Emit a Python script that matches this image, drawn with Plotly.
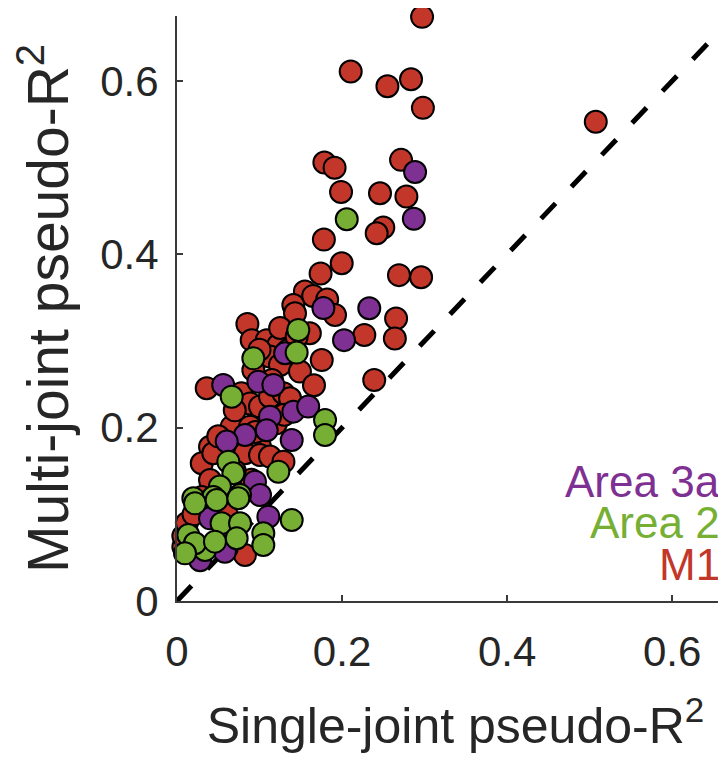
import plotly.graph_objects as go

# ---- data ----
m1_x = [0.297, 0.2105, 0.255, 0.2836, 0.298, 0.5075, 0.2715, 0.1786, 0.191, 0.1988,
        0.246, 0.278, 0.25, 0.242, 0.178, 0.1996, 0.174, 0.269, 0.2958, 0.155,
        0.165, 0.182, 0.141, 0.143, 0.1915, 0.2655, 0.227, 0.264, 0.0853, 0.161,
        0.0905, 0.1087, 0.1228, 0.135, 0.1127, 0.1754, 0.1248, 0.149, 0.0925, 0.239,
        0.166, 0.036, 0.078, 0.0885, 0.1006, 0.1127, 0.129, 0.137, 0.0663, 0.0885,
        0.04, 0.1006, 0.03, 0.044, 0.0824, 0.1006, 0.1127, 0.129, 0.04, 0.0824,
        0.0077, 0.0077, 0.05, 0.07, 0.095, 0.12, 0.03, 0.06, 0.09, 0.115,
        0.10, 0.125, 0.145, 0.07, 0.012, 0.02, 0.13]
m1_y = [0.674, 0.611, 0.594, 0.602, 0.569, 0.553, 0.509, 0.506, 0.500, 0.472,
        0.4705, 0.4667, 0.431, 0.4243, 0.417, 0.3897, 0.378, 0.376, 0.3735, 0.357,
        0.352, 0.348, 0.3416, 0.332, 0.330, 0.326, 0.307, 0.303, 0.3197, 0.309,
        0.301, 0.301, 0.2954, 0.2897, 0.282, 0.278, 0.2724, 0.2647, 0.2666, 0.255,
        0.249, 0.2455, 0.2397, 0.228, 0.2243, 0.2358, 0.2397, 0.234, 0.2012, 0.2012,
        0.178, 0.178, 0.159, 0.1705, 0.1705, 0.1685, 0.1666, 0.1608, 0.1396, 0.0531,
        0.0627, 0.075, 0.19, 0.22, 0.195, 0.205, 0.12, 0.10, 0.14, 0.255,
        0.29, 0.315, 0.305, 0.15, 0.09, 0.10, 0.215]

a3_x = [0.2885, 0.287, 0.233, 0.2024, 0.1774, 0.131, 0.0986, 0.1168, 0.056, 0.141,
        0.159, 0.1127, 0.1087, 0.0824, 0.0602, 0.139, 0.0945, 0.1006, 0.1107, 0.04,
        0.0602, 0.058, 0.028]
a3_y = [0.495, 0.441, 0.3378, 0.301, 0.338, 0.2859, 0.2531, 0.2493, 0.2493, 0.2185,
        0.2243, 0.2127, 0.197, 0.1916, 0.184, 0.1858, 0.1377, 0.1223, 0.0973, 0.0954,
        0.0608, 0.0569, 0.047]

a2_x = [0.2057, 0.147, 0.145, 0.0925, 0.0663, 0.1794, 0.1794, 0.0622, 0.0683, 0.1228,
        0.052, 0.0764, 0.0198, 0.044, 0.0218, 0.048, 0.0743, 0.139, 0.054, 0.0764,
        0.0137, 0.1046, 0.1046, 0.0723, 0.034, 0.0218, 0.046, 0.0097]
a2_y = [0.4405, 0.3128, 0.2866, 0.280, 0.2358, 0.2089, 0.1916, 0.1608, 0.1474, 0.1492,
        0.132, 0.1223, 0.1185, 0.120, 0.1127, 0.1166, 0.1185, 0.0935, 0.0897, 0.0897,
        0.0762, 0.0781, 0.0646, 0.0724, 0.0589, 0.0666, 0.0685, 0.055]

diag = [0, 0.7]
tick_vals = [0, 0.2, 0.4, 0.6]
tick_text = ["0", "0.2", "0.4", "0.6"]
group_names = ["Area 3a", "Area 2", "M1"]

RED = "#C2372A"
PURPLE = "#7F3193"
GREEN = "#77AF35"
FONT = "Liberation Sans, Arial, Helvetica, sans-serif"
TXT = "#262626"

fig = go.Figure()
fig.add_trace(go.Scatter(x=diag, y=diag, mode="lines",
                         line=dict(color="black", width=5, dash="21px,23px"),
                         hoverinfo="skip", showlegend=False))

for name, xs, ys, col in [("M1", m1_x, m1_y, RED),
                          ("Area 3a", a3_x, a3_y, PURPLE),
                          ("Area 2", a2_x, a2_y, GREEN)]:
    fig.add_trace(go.Scatter(x=xs, y=ys, mode="markers", name=name,
                             marker=dict(size=22, color=col,
                                         line=dict(color="black", width=2)),
                             cliponaxis=False, showlegend=False))

axis_common = dict(showgrid=False, zeroline=False, showline=True, automargin=False,
                   linecolor="#3a3a3a", linewidth=2, ticks="inside",
                   ticklen=6, tickwidth=2, tickcolor="#3a3a3a",
                   tickvals=tick_vals, ticktext=tick_text,
                   tickfont=dict(family=FONT, size=42, color=TXT))

fig.update_xaxes(range=[0, 0.675], ticklabelstandoff=13,
                 title=dict(text="Single-joint pseudo-R<sup>2</sup>",
                            font=dict(family=FONT, size=50, color=TXT),
                            standoff=34),
                 **axis_common)
fig.update_yaxes(range=[0, 0.675], ticklabelstandoff=8,
                 title=dict(text="Multi-joint pseudo-R<sup>2</sup>",
                            font=dict(family=FONT, size=57, color=TXT),
                            standoff=18),
                 **axis_common)

for name, col, yp in [("Area 3a", PURPLE, 0.205), ("Area 2", GREEN, 0.135), ("M1", RED, 0.063)]:
    fig.add_annotation(text=name, xref="paper", yref="paper", x=0.978, y=yp,
                       xanchor="right", yanchor="middle", showarrow=False,
                       font=dict(family=FONT, size=44, color=col))

# page body has an 8px margin, so the figure is offset by 8px
fig.update_layout(width=726, height=749, plot_bgcolor="white", paper_bgcolor="white",
                  margin=dict(l=169, r=0, t=8, b=156, autoexpand=False), showlegend=False)

fig.write_html("out.html")
